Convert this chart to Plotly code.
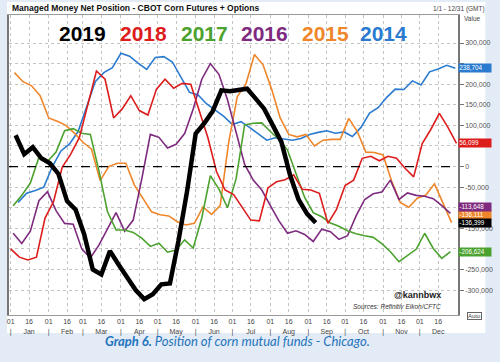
import plotly.graph_objects as go
import pandas as pd

# ---------------- data (net position, thousand contracts) ----------------
years = ["2014", "2015", "2016", "2017", "2018", "2019"]
colors = {"2014": "#2a7bd0", "2015": "#f0862a", "2016": "#7e2a7e",
          "2017": "#4ca22f", "2018": "#dd1c1c", "2019": "#000000"}

start_2014 = "2019-01-07"
vals_2014 = [-87, -65, -58, -50, 0, 38, 55, 85, 145, 206, 228, 240, 275, 268, 251, 236,
             265, 267, 254, 218, 180, 174, 152, 137, 122, 102, 109, 95, 80, 64, 70, 67,
             64, 68, 78, 83, 87, 81, 84, 73, 95, 130, 143, 168, 188, 187, 208, 198, 230,
             237, 246, 238.704]

start_2015 = "2019-01-04"
vals_2015 = [228, 206, 196, 172, 118, 110, 100, 81, 59, 42, -34, 0, 8, 8, -45, -78,
             -110, -117, -120, -134, -142, -138, -98, -116, -95, 60, 170, 200, 272, 247,
             188, 118, 78, 72, 78, 50, 64, 66, 66, 117, 85, 35, 34, 28, -35, -87, -99,
             -77, -69, -42, -87, -136.111]

start_2016 = "2019-01-03"
vals_2016 = [-162, -187, -157, -83, -61, -107, -138, -140, -200, -222, -191, -153, -112,
             -157, -130, -30, 78, 71, 45, 54, 80, 140, 212, 250, 224, 162, 85, 5, -33,
             -57, -95, -132, -162, -156, -165, -182, -152, -158, -177, -168, -120, -80,
             -66, -62, -33, -80, -64, -70, -72, -78, -95, -113.648]

start_2017 = "2019-01-03"
vals_2017 = [-95, -70, -40, 22, 12, 35, 87, 92, 81, 78, -10, -110, -154, -154, -160, -174,
             -194, -186, -208, -203, -178, -198, -125, -22, -55, -100, -30, 101, 105, 106,
             85, 66, 40, -20, -75, -112, -122, -137, -145, -156, -163, -168, -172, -187,
             -207, -231, -216, -201, -162, -199, -223, -206.624]

start_2018 = "2019-01-01"
vals_2018 = [-200, -220, -227, -220, -125, -85, -2, 30, 70, 150, 232, 212, 118, 140, 172,
             136, 125, 188, 212, 190, 202, 200, 135, 70, -12, -57, -68, -100, -130, -132,
             -52, -37, -32, -20, -55, -57, -65, -138, -104, -46, -33, 20, 25, 14, 25, 20,
             -4, -25, 56, 90, 129, 95, 56.099]

start_2019 = "2019-01-05"
vals_2019 = [76, 30, 47, 20, 8, -18, -84, -105, -165, -250, -262, -205, -238, -270, -300,
             -322, -310, -286, -284, -180, -60, 80, 105, 135, 185, 183, 187, 189, 165, 140,
             100, 60, -20, -80, -115, -136.399]

series = {"2014": (start_2014, vals_2014), "2015": (start_2015, vals_2015),
          "2016": (start_2016, vals_2016), "2017": (start_2017, vals_2017),
          "2018": (start_2018, vals_2018), "2019": (start_2019, vals_2019)}

months = ["Jan", "Feb", "Mar", "Apr", "May", "Jun", "Jul", "Aug", "Sep", "Oct", "Nov", "Dec"]
y_ticks = list(range(-300000, 300001, 50000))

# ---------------- figure ----------------
fig = go.Figure()
draw_order = ["2014", "2015", "2016", "2017", "2018", "2019"]
for yr in draw_order:
    start, vals = series[yr]
    x = pd.date_range(start, periods=len(vals), freq="7D")
    y = [v * 1000 for v in vals]
    fig.add_trace(go.Scatter(x=x, y=y, mode="lines", name=yr,
                             line=dict(color=colors[yr], width=4.5 if yr == "2019" else 1.6),
                             showlegend=False, hoverinfo="skip"))

tickvals, ticktext = [], []
for i, m in enumerate(months):
    tickvals.append(pd.Timestamp(2019, i + 1, 1))
    ticktext.append("01<br>|")
    tickvals.append(pd.Timestamp(2019, i + 1, 16))
    ticktext.append("16<br>" + m)

# right-edge last-value labels, stacked to avoid overlap
last = {yr: series[yr][1][-1] * 1000 for yr in years}
gap = 19500
placed = {}
prev = None
for yr in sorted(years, key=lambda k: last[k]):
    pos = last[yr]
    if prev is not None and pos < prev + gap:
        pos = prev + gap
    placed[yr] = pos
    prev = pos

# tick labels hidden behind the value boxes (as in the reference)
y_ticktext = []
for v in y_ticks:
    covered = any(abs(v - p) < 12000 for p in placed.values())
    y_ticktext.append("" if covered else f"{v:,}")

grid = "#c4c4c4"
fig.update_xaxes(range=["2018-12-30 14:00", "2020-01-01 05:00"], tickmode="array",
                 tickvals=tickvals, ticktext=ticktext, tickangle=0,
                 tickfont=dict(size=7, color="#444", family="Liberation Sans"),
                 showgrid=True, gridcolor=grid, griddash="dot", gridwidth=1,
                 showline=True, linecolor="#9a9a9a", mirror=True, ticks="", zeroline=False)
fig.update_yaxes(range=[-360500, 368000], side="right", tickmode="array", tickvals=y_ticks,
                 ticktext=y_ticktext,
                 tickfont=dict(size=7, color="#555", family="Liberation Sans"),
                 showgrid=True, gridcolor=grid, griddash="dot", gridwidth=1,
                 showline=True, linecolor="#777", linewidth=1.5, mirror=True,
                 ticks="outside", ticklen=4, tickcolor="#777", zeroline=False)

def px_x(px):
    return (px - 7) / 460

def px_y(py):
    return (315 - py) / 300

shapes = [
    dict(type="rect", xref="paper", yref="paper", x0=px_x(5), x1=px_x(495),
         y0=px_y(333), y1=px_y(2), fillcolor="white", line=dict(width=0), layer="below"),
    dict(type="line", xref="paper", yref="y", x0=0, x1=1, y0=0, y1=0,
         line=dict(color="black", width=1.2, dash="dash")),
]

ann = []
ann.append(dict(text="<b>Managed Money Net Position - CBOT Corn Futures + Options</b>",
                xref="paper", yref="paper", x=px_x(8), y=px_y(8), xanchor="left",
                yanchor="middle", showarrow=False,
                font=dict(size=8.5, color="#111", family="Liberation Sans")))
ann.append(dict(text="1/1 - 12/31 (GMT)", xref="paper", yref="paper", x=px_x(497),
                y=px_y(9), xanchor="right", yanchor="middle", showarrow=False,
                font=dict(size=6.5, color="#444", family="Liberation Sans")))
ann.append(dict(text="Value", xref="paper", yref="paper", x=px_x(471), y=px_y(19),
                xanchor="left", yanchor="middle", showarrow=False,
                font=dict(size=6.5, color="#444", family="Liberation Sans")))

year_px = {"2019": 82, "2018": 145, "2017": 207, "2016": 269, "2015": 331, "2014": 391}
for yr, xp in year_px.items():
    ann.append(dict(text=f"<b>{yr}</b>", xref="paper", yref="paper", x=px_x(xp),
                    y=px_y(33), xanchor="center", yanchor="middle", showarrow=False,
                    font=dict(size=21, color=colors[yr], family="Liberation Sans")))

ann.append(dict(text="<b>@kannbwx</b>", xref="paper", yref="paper", x=px_x(452),
                y=px_y(295), xanchor="right", yanchor="middle", showarrow=False,
                font=dict(size=9, color="#222", family="Liberation Sans")))
ann.append(dict(text="<i>Sources: Refinitiv Eikon/CFTC</i>", xref="paper", yref="paper",
                x=px_x(452), y=px_y(306), xanchor="right", yanchor="middle",
                showarrow=False, font=dict(size=6.5, color="#333", family="Liberation Sans")))
ann.append(dict(text="Auto", xref="paper", yref="paper", x=px_x(484), y=px_y(316),
                xanchor="center", yanchor="middle", showarrow=False,
                bordercolor="#666", borderwidth=1, borderpad=0, bgcolor="white",
                font=dict(size=6, color="#444", family="Liberation Sans")))

for yr in years:
    ann.append(dict(text=f"{last[yr]:,.0f}", xref="paper", yref="y", x=1.0, y=placed[yr],
                    xanchor="left", yanchor="middle", showarrow=False,
                    bgcolor=colors[yr], borderpad=0.3, width=31, align="left",
                    font=dict(size=6.3, color="white", family="Liberation Sans")))

ann.append(dict(text="<b><i>Graph 6.</i></b><i> Position of corn mutual funds - Chicago.</i>",
                xref="paper", yref="paper", x=px_x(241), y=px_y(341), xanchor="center",
                yanchor="middle", showarrow=False,
                font=dict(size=13, color="#1f74bd", family="Lato")))

fig.update_layout(width=500, height=362, margin=dict(l=7, r=33, t=15, b=47),
                  paper_bgcolor="#e2ebf6", plot_bgcolor="white",
                  shapes=shapes, annotations=ann)

fig.write_html("out.html", config={"displayModeBar": False},
               post_script="document.body.style.margin='0';document.body.style.background='#e2ebf6';")
